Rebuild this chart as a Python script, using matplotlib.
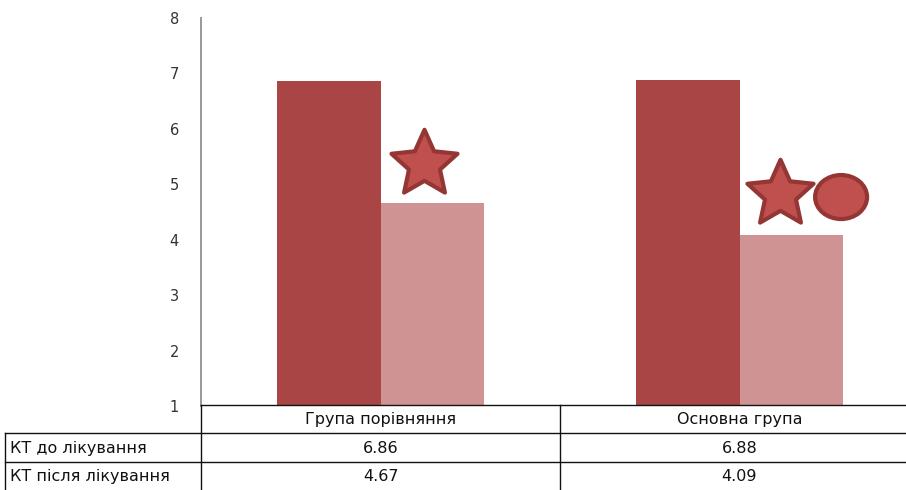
import matplotlib.pyplot as plt
from matplotlib.lines import Line2D
from matplotlib.patches import Ellipse
from matplotlib.path import Path

groups = ["Група порівняння", "Основна група"]
series = ["КТ до лікування", "КТ після лікування"]
before = [6.86, 6.88]
after = [4.67, 4.09]
yticks = [1, 2, 3, 4, 5, 6, 7, 8]

DARK = "#A94545"
LIGHT = "#D09393"
MARK_FILL = "#C0504D"
MARK_EDGE = "#943634"

W, H = 906, 490
fig = plt.figure(figsize=(W / 100, H / 100), dpi=100)


def fx(x):
    return x / W


def fy(y):
    return 1 - y / H


# plot area in pixels: left 201, right 919 (runs past the edge), y=1 at 406, y=8 at 18
ax = fig.add_axes([fx(201), fy(406), (919 - 201) / W, (406 - 18) / H])
ax.set_xlim(0, 2)
ax.set_ylim(1, 8)
ax.set_yticks(yticks)
ax.tick_params(axis="y", length=0, pad=16, labelsize=10.5, labelcolor="#333333")
ax.set_xticks([])
for s in ["top", "right", "bottom"]:
    ax.spines[s].set_visible(False)
ax.spines["left"].set_color("#999999")
ax.spines["left"].set_linewidth(1.4)

bw = 0.287
centers = [0.5, 1.5]
ax.bar([c - bw / 2 for c in centers], [v - 1 for v in before], bottom=1, width=bw, color=DARK)
ax.bar([c + bw / 2 for c in centers], [v - 1 for v in after], bottom=1, width=bw, color=LIGHT)

# significance marks: a plump five-point star and an oval
star = Path.unit_regular_star(5, innerCircle=0.47)
stars = [(0.62, 5.36), (1.613, 4.83)]
for sx, sy in stars:
    ax.plot(sx, sy, marker=star, markersize=50, markerfacecolor=MARK_FILL,
            markeredgecolor=MARK_EDGE, markeredgewidth=3, clip_on=False,
            solid_joinstyle="round")
circle_xy = (1.783, 4.77)
ax.add_patch(Ellipse(circle_xy, 52 / 359, 44 / 55.4, facecolor=MARK_FILL,
                     edgecolor=MARK_EDGE, linewidth=3, clip_on=False))

# data table under the plot
line_kw = dict(color="#111111", linewidth=1.0, transform=fig.transFigure)
fig.add_artist(Line2D([fx(201), 1], [fy(405), fy(405)], **line_kw))
fig.add_artist(Line2D([fx(5), 1], [fy(433), fy(433)], **line_kw))
fig.add_artist(Line2D([fx(5), 1], [fy(462), fy(462)], **line_kw))
fig.add_artist(Line2D([fx(5), fx(5)], [fy(433), 0], **line_kw))
fig.add_artist(Line2D([fx(201), fx(201)], [fy(405), 0], **line_kw))
fig.add_artist(Line2D([fx(560), fx(560)], [fy(405), 0], **line_kw))

font = dict(fontsize=11.5, color="#111111", va="center")
row_y = [fy(419), fy(448), fy(476)]
col_x = [fx(201 + 359 * c) for c in centers]
for x, g in zip(col_x, groups):
    fig.text(x, row_y[0], g, ha="center", **font)
for r, (name, vals) in enumerate(zip(series, [before, after])):
    fig.text(fx(10), row_y[r + 1], name, ha="left", **font)
    for x, v in zip(col_x, vals):
        fig.text(x, row_y[r + 1], f"{v:.2f}", ha="center", **font)

fig.savefig("out.png", dpi=100)
